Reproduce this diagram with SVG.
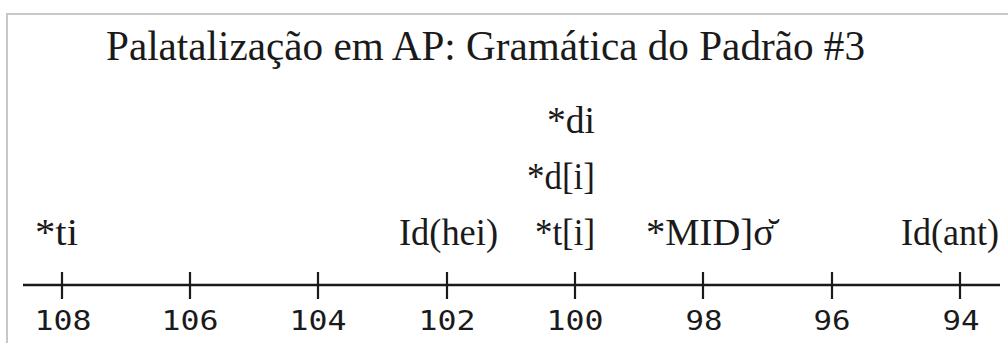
<svg xmlns="http://www.w3.org/2000/svg" width="1008" height="343" viewBox="0 0 1008 343">
<style>
.ser{font-family:"Liberation Serif","Times New Roman",serif}
.lbl{font-size:37px;fill:#1a1a1a}
.num{font-family:"DejaVu Sans Mono","Liberation Mono",monospace;font-size:26px;fill:#1a1a1a;text-anchor:middle}
.tick{stroke:#1a1a1a;stroke-width:2.2}
</style>
<rect x="0" y="0" width="1008" height="343" fill="#fff"/>
<rect x="7" y="14" width="1010" height="340" fill="none" stroke="#c8c8c8" stroke-width="2"/>
<g id="title">
<text class="ser" x="106" y="60" font-size="42" fill="#1a1a1a" textLength="759" lengthAdjust="spacingAndGlyphs">Palatalização em AP: Gramática do Padrão #3</text>
</g>
<g id="axis">
<line x1="23" y1="285" x2="1000" y2="285" stroke="#1a1a1a" stroke-width="2.6"/>
<line class="tick" x1="62" y1="272" x2="62" y2="299"/>
<line class="tick" x1="190" y1="272" x2="190" y2="299"/>
<line class="tick" x1="318" y1="272" x2="318" y2="299"/>
<line class="tick" x1="447" y1="272" x2="447" y2="299"/>
<line class="tick" x1="575" y1="272" x2="575" y2="299"/>
<line class="tick" x1="703" y1="272" x2="703" y2="299"/>
<line class="tick" x1="832" y1="272" x2="832" y2="299"/>
<line class="tick" x1="960" y1="272" x2="960" y2="299"/>
</g>
<g id="numbers">
<text class="num" x="63" y="330" textLength="57" lengthAdjust="spacingAndGlyphs">108</text>
<text class="num" x="190" y="330" textLength="57" lengthAdjust="spacingAndGlyphs">106</text>
<text class="num" x="318" y="330" textLength="57" lengthAdjust="spacingAndGlyphs">104</text>
<text class="num" x="447" y="330" textLength="57" lengthAdjust="spacingAndGlyphs">102</text>
<text class="num" x="575" y="330" textLength="57" lengthAdjust="spacingAndGlyphs">100</text>
<text class="num" x="704" y="330" textLength="37" lengthAdjust="spacingAndGlyphs">98</text>
<text class="num" x="832" y="330" textLength="37" lengthAdjust="spacingAndGlyphs">96</text>
<text class="num" x="961" y="330" textLength="37" lengthAdjust="spacingAndGlyphs">94</text>
</g>
<g id="node-ti"><text class="ser lbl" x="35" y="245" textLength="43" lengthAdjust="spacingAndGlyphs">*ti</text></g>
<g id="node-idhei"><text class="ser lbl" x="399" y="245" textLength="99" lengthAdjust="spacingAndGlyphs">Id(hei)</text></g>
<g id="node-di"><text class="ser lbl" x="547" y="133" textLength="48" lengthAdjust="spacingAndGlyphs">*di</text></g>
<g id="node-d-i"><text class="ser lbl" x="527" y="189" textLength="68" lengthAdjust="spacingAndGlyphs">*d[i]</text></g>
<g id="node-t-i"><text class="ser lbl" x="535" y="245" textLength="60" lengthAdjust="spacingAndGlyphs">*t[i]</text></g>
<g id="node-mid"><text class="ser lbl" x="646" y="245" textLength="128" lengthAdjust="spacingAndGlyphs">*MID]σ̆</text></g>
<g id="node-idant"><text class="ser lbl" x="901" y="245" textLength="98" lengthAdjust="spacingAndGlyphs">Id(ant)</text></g>
</svg>
